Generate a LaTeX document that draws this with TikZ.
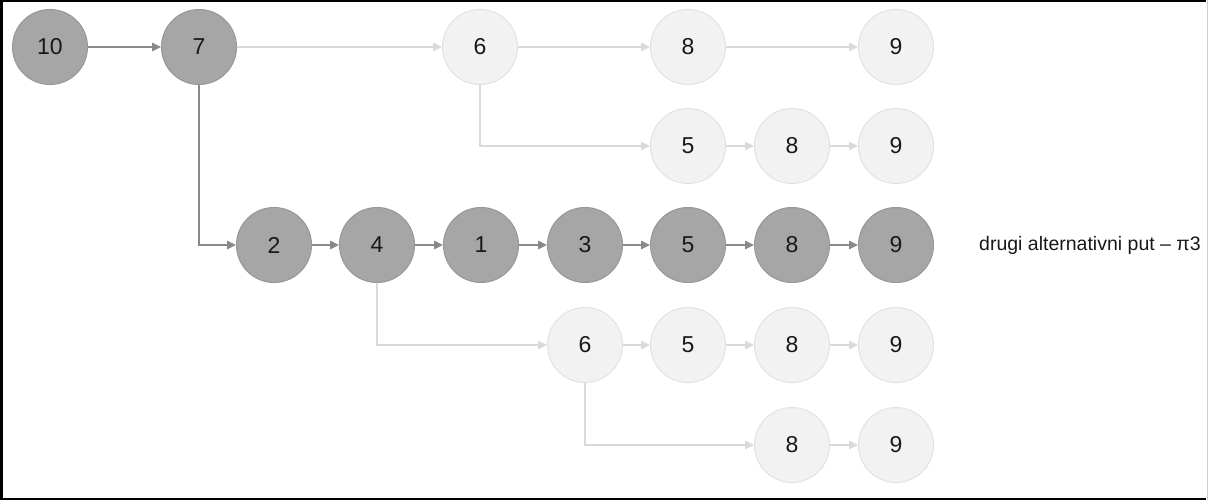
\documentclass[tikz,border=0pt]{standalone}
\usepackage{fontspec}
\setmainfont{Liberation Sans}
\usetikzlibrary{arrows.meta}
\definecolor{dkfill}{HTML}{A6A6A6}
\definecolor{dkline}{HTML}{979797}
\definecolor{ltfill}{HTML}{F2F2F2}
\definecolor{ltline}{HTML}{E2E2E2}
\definecolor{dkarrow}{HTML}{898989}
\definecolor{ltarrow}{HTML}{DADADA}
\begin{document}
\begin{tikzpicture}[x=1pt,y=-1pt,
  dk/.style={circle, draw=dkline, line width=1pt, fill=dkfill, minimum size=75pt, inner sep=0pt,
    font=\fontsize{23}{23}\selectfont, text=black!90},
  lt/.style={circle, draw=ltline, line width=1pt, fill=ltfill, minimum size=75pt, inner sep=0pt,
    font=\fontsize{23}{23}\selectfont, text=black!90},
  dka/.style={draw=dkarrow, line width=1.1pt, -{Triangle[length=9pt,width=8.5pt]}},
  lta/.style={draw=ltarrow, line width=1.1pt, -{Triangle[length=9pt,width=8.5pt]}},
  lbl/.style={anchor=west, inner sep=0pt, font=\fontsize{19.5}{19.5}\selectfont, text=black!90}
]
\useasboundingbox (0,0) rectangle (1208,500);
\fill[white] (0,0) rectangle (1208,500);
% frame
\draw[black, line width=2.5pt] (1.25,500) -- (1.25,1.25) -- (1206,1.25);
\draw[black, line width=2.5pt] (0,498.75) -- (1206,498.75);
\draw[black!20, line width=1pt] (1207,0) -- (1207,500);

% row 1
\node[dk] (n10) at (50,47) {10};
\node[dk] (n7) at (199,47) {7};
\node[lt] (a6) at (480,47) {6};
\node[lt] (a8) at (688,47) {8};
\node[lt] (a9) at (896,47) {9};
% row 2
\node[lt] (b5) at (688,146) {5};
\node[lt] (b8) at (792,146) {8};
\node[lt] (b9) at (896,146) {9};
% row 3
\node[dk] (c2) at (274,245) {2};
\node[dk] (c4) at (377,245) {4};
\node[dk] (c1) at (481,245) {1};
\node[dk] (c3) at (585,245) {3};
\node[dk] (c5) at (688,245) {5};
\node[dk] (c8) at (792,245) {8};
\node[dk] (c9) at (896,245) {9};
\node[lbl] (lab) at (979,245) {drugi alternativni put – π3};
% row 4
\node[lt] (d6) at (585,345) {6};
\node[lt] (d5) at (688,345) {5};
\node[lt] (d8) at (792,345) {8};
\node[lt] (d9) at (896,345) {9};
% row 5
\node[lt] (e8) at (792,445) {8};
\node[lt] (e9) at (896,445) {9};

% connectors
\draw[dka] (n10) -- (n7);
\draw[lta] (n7) -- (a6);
\draw[dka] (n7.south) |- (c2.west);
\draw[lta] (a6) -- (a8);
\draw[lta] (a8) -- (a9);
\draw[lta] (a6.south) |- (b5.west);
\draw[lta] (b5) -- (b8);
\draw[lta] (b8) -- (b9);
\draw[dka] (c2) -- (c4);
\draw[dka] (c4) -- (c1);
\draw[dka] (c1) -- (c3);
\draw[dka] (c3) -- (c5);
\draw[dka] (c5) -- (c8);
\draw[dka] (c8) -- (c9);
\draw[lta] (c4.south) |- (d6.west);
\draw[lta] (d6) -- (d5);
\draw[lta] (d5) -- (d8);
\draw[lta] (d8) -- (d9);
\draw[lta] (d6.south) |- (e8.west);
\draw[lta] (e8) -- (e9);
\end{tikzpicture}
\end{document}
